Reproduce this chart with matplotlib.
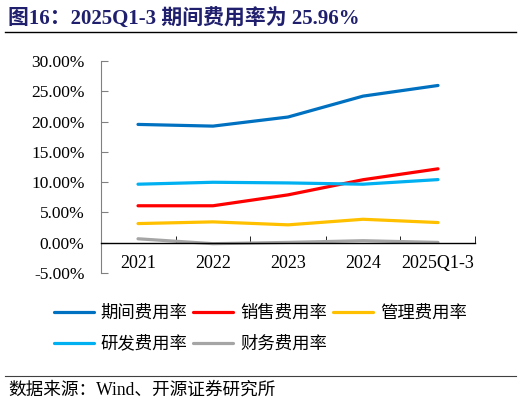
import matplotlib
matplotlib.use("Agg")
import matplotlib.pyplot as plt
from matplotlib.ticker import FuncFormatter, FixedLocator

categories = ["2021", "2022", "2023", "2024", "2025Q1-3"]
period_rate = [19.53, 19.25, 20.75, 24.2, 25.96]
sales_rate = [6.1, 6.1, 7.9, 10.4, 12.2]
admin_rate = [3.16, 3.44, 2.95, 3.87, 3.33]
rd_rate = [9.66, 9.98, 9.87, 9.66, 10.42]
fin_rate = [0.65, -0.16, 0.05, 0.33, 0.05]

series_names = ["期间费用率", "销售费用率", "管理费用率", "研发费用率", "财务费用率"]
series_vals = [period_rate, sales_rate, admin_rate, rd_rate, fin_rate]
colors = ["#0070C0", "#FF0000", "#FFC000", "#00B0F0", "#A5A5A5"]
yticks = [-5, 0, 5, 10, 15, 20, 25, 30]

plt.rcParams["font.family"] = ["Liberation Serif", "Noto Sans CJK SC", "DejaVu Sans"]
cjk = ["Noto Sans CJK SC", "Liberation Serif", "DejaVu Sans"]

fig = plt.figure(figsize=(5.22, 4.05), dpi=100)
ax = fig.add_axes([100.5/522, 1-273/405, 375/522, 212/405])

x = list(range(len(categories)))
lines = []
for name, vals, c in zip(series_names, series_vals, colors):
    ln, = ax.plot(x, vals, color=c, lw=2.3, label=name, solid_capstyle="round")
    lines.append(ln)

ax.set_xlim(-0.5, len(categories) - 0.5)
ax.set_ylim(-5, 30)
ax.yaxis.set_major_locator(FixedLocator(yticks))
ax.yaxis.set_major_formatter(FuncFormatter(lambda v, p: f"{v:.2f}%"))
ax.tick_params(axis="y", direction="in", length=5, color="#808080", labelsize=12.5, pad=11.5)

ax.set_xticks(x)
ax.set_xticklabels(categories)
ax.xaxis.set_minor_locator(FixedLocator([i + 0.5 for i in x]))
ax.tick_params(axis="x", which="major", length=0, pad=9, labelsize=13)
ax.tick_params(axis="x", which="minor", direction="in", length=5, color="black")

for s in ["top", "right"]:
    ax.spines[s].set_visible(False)
ax.spines["left"].set_color("#808080")
ax.spines["bottom"].set_position(("data", 0))
ax.spines["bottom"].set_color("black")
ax.spines["bottom"].set_linewidth(1.0)

order = [0, 3, 1, 4, 2]
leg = fig.legend([lines[i] for i in order], [series_names[i] for i in order],
                 ncol=3, loc="upper left", bbox_to_anchor=(38/522, 1-288/405),
                 frameon=False, handlelength=2.3, handletextpad=0.4,
                 columnspacing=0.35, labelspacing=0.75,
                 prop={"family": cjk, "size": 12.5})

fig.text(8/522, 1-19/405, "图16：2025Q1-3 期间费用率为 25.96%", fontsize=15,
         fontweight="bold", color="#1F1F6E", va="center", ha="left")
fig.add_artist(plt.Line2D([5/522, 516/522], [1-31.5/405, 1-31.5/405],
                          color="black", lw=1.0, transform=fig.transFigure))
fig.add_artist(plt.Line2D([5/522, 516/522], [1-376/405, 1-376/405],
                          color="#404040", lw=0.8, transform=fig.transFigure))
fig.text(8/522, 1-390/405, "数据来源：Wind、开源证券研究所", fontsize=12.7,
         va="center", ha="left")

fig.savefig("out.png", dpi=100)
